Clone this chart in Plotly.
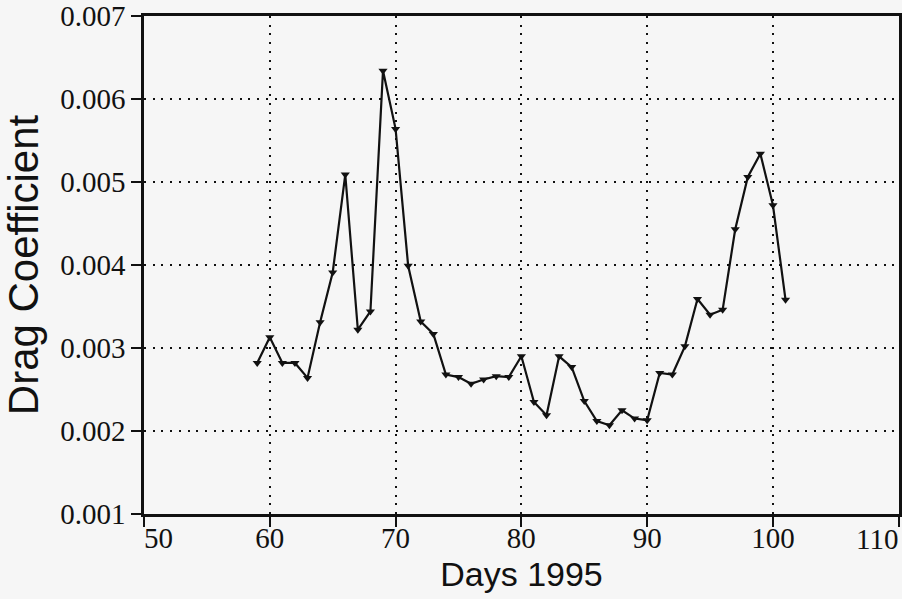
import plotly.graph_objects as go

# Daily drag coefficient estimates, 1995 (day of year)
days = [59, 60, 61, 62, 63, 64, 65, 66, 67, 68, 69, 70, 71, 72, 73, 74, 75,
        76, 77, 78, 79, 80, 81, 82, 83, 84, 85, 86, 87, 88, 89, 90, 91, 92,
        93, 94, 95, 96, 97, 98, 99, 100, 101]
drag_coeff = [0.00282, 0.00313, 0.00282, 0.00282, 0.00264, 0.00331, 0.00391,
              0.00509, 0.00322, 0.00344, 0.00634, 0.00564, 0.00399, 0.00332,
              0.00317, 0.00268, 0.00265, 0.00257, 0.00262, 0.00266, 0.00265,
              0.00290, 0.00235, 0.00219, 0.00290, 0.00277, 0.00236, 0.00212,
              0.00207, 0.00225, 0.00215, 0.00213, 0.00270, 0.00268, 0.00302,
              0.00359, 0.00340, 0.00346, 0.00443, 0.00506, 0.00534, 0.00472,
              0.00358]

x_ticks = [50, 60, 70, 80, 90, 100, 110]
y_ticks = [0.001, 0.002, 0.003, 0.004, 0.005, 0.006, 0.007]

NB = "\u00a0"
x_tick_text = [str(v) for v in x_ticks]
# keep the end labels inside the frame: pad the first one, and set the
# last one right-aligned to its tick as a separate label
x_tick_text[0] = NB * 4 + x_tick_text[0]
last_label = x_tick_text[-1]
x_tick_text[-1] = ""

fig = go.Figure()
fig.add_trace(go.Scatter(
    x=days, y=drag_coeff, mode="lines+markers",
    line=dict(color="#111111", width=2.2),
    marker=dict(symbol="triangle-down", size=8, color="#111111"),
    showlegend=False,
))

serif = "Liberation Serif, Times New Roman, serif"
sans = "Liberation Sans, Arial, Helvetica, sans-serif"

fig.add_annotation(
    x=x_ticks[-1], xref="x", y=0, yref="paper",
    text=last_label, showarrow=False, xanchor="right", yanchor="top",
    yshift=-7, xshift=1, font=dict(family=serif, size=29, color="#111111"),
)

fig.update_layout(
    width=902, height=599,
    margin=dict(l=144, r=3, t=16, b=85),
    paper_bgcolor="#f6f6f6", plot_bgcolor="#f6f6f6",
    font=dict(family=serif, size=29, color="#111111"),
    xaxis=dict(
        range=[50, 110.02], tickvals=x_ticks, ticktext=x_tick_text,
        ticks="outside", ticklen=10, tickwidth=1.5, tickcolor="#111111",
        ticklabelstandoff=-14,
        showline=True, linecolor="#111111", linewidth=2.5, mirror=True,
        showgrid=True, gridcolor="#111111", gridwidth=2, griddash="2px,6.7px",
        zeroline=False, automargin=False,
        title=dict(text="Days 1995", font=dict(family=sans, size=34), standoff=10),
    ),
    yaxis=dict(
        range=[0.001, 0.007], tickvals=y_ticks, tickformat=".3f",
        ticks="outside", ticklen=10, tickwidth=1.5, tickcolor="#111111",
        showline=True, linecolor="#111111", linewidth=2.5, mirror=True,
        showgrid=True, gridcolor="#111111", gridwidth=2, griddash="2px,6.7px",
        zeroline=False, automargin=False,
        title=dict(text="Drag Coefficient", font=dict(family=sans, size=42), standoff=12),
    ),
)

fig.write_html("out.html")
